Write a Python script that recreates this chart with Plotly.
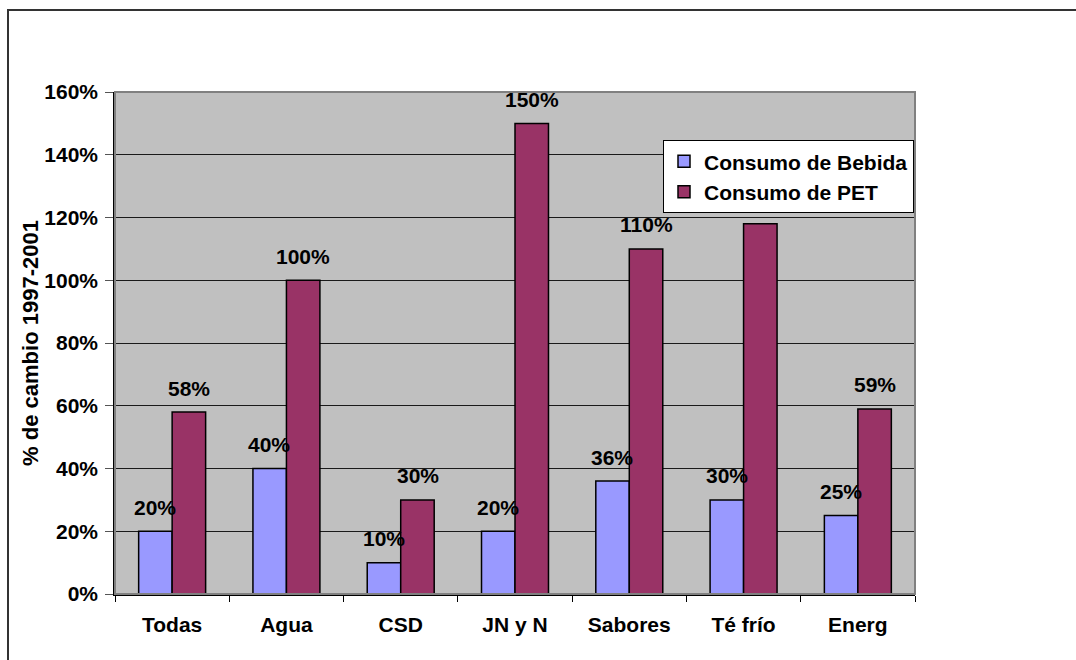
import plotly.graph_objects as go

categories = ["Todas", "Agua", "CSD", "JN y N", "Sabores", "Té frío", "Energ"]
bebida = [20, 40, 10, 20, 36, 30, 25]
pet = [58, 100, 30, 150, 110, 118, 59]
bebida_labels = ["20%", "40%", "10%", "20%", "36%", "30%", "25%"]
pet_labels = ["58%", "100%", "30%", "150%", "110%", None, "59%"]

FONT = "Liberation Sans, Arial, sans-serif"
FS = 21
BLUE = "#9999FF"
RED = "#993366"

fig = go.Figure()
fig.add_trace(go.Bar(name="Consumo de Bebida", x=categories, y=bebida,
                     marker=dict(color=BLUE, line=dict(color="black", width=1.5))))
fig.add_trace(go.Bar(name="Consumo de PET", x=categories, y=pet,
                     marker=dict(color=RED, line=dict(color="black", width=1.5))))

annotations = []
for cat, v, lab in zip(categories, bebida, bebida_labels):
    if lab:
        annotations.append(dict(x=cat, y=v, xref="x", yref="y", text=lab, showarrow=False,
                                xshift=-17, yshift=24, yanchor="middle",
                                font=dict(family=FONT, size=FS, color="black", weight="bold")))
for cat, v, lab in zip(categories, pet, pet_labels):
    if lab:
        annotations.append(dict(x=cat, y=v, xref="x", yref="y", text=lab, showarrow=False,
                                xshift=17, yshift=24, yanchor="middle",
                                font=dict(family=FONT, size=FS, color="black", weight="bold")))

fig.update_layout(
    width=1076, height=660,
    margin=dict(l=115, r=161, t=92, b=66),
    paper_bgcolor="white",
    plot_bgcolor="#C0C0C0",
    barmode="group",
    bargap=0.414,
    bargroupgap=0,
    font=dict(family=FONT, size=FS, color="black", weight="bold"),
    showlegend=True,
    legend=dict(x=0.685, y=0.904, xanchor="left", yanchor="top",
                bgcolor="white", bordercolor="black", borderwidth=1,
                font=dict(family=FONT, size=FS, color="black", weight="bold"),
                tracegroupgap=0),
    annotations=annotations,
    xaxis=dict(type="category", showgrid=False, tickson="boundaries",
               ticks="outside", ticklen=6, tickcolor="black", tickwidth=1,
               showline=True, linecolor="black", linewidth=1.5,
               tickfont=dict(family=FONT, size=FS, color="black", weight="bold"),
               ticklabelstandoff=11),
    yaxis=dict(range=[0, 160], dtick=20, ticksuffix="%",
               showgrid=True, gridcolor="#1a1a1a", gridwidth=1,
               ticks="outside", ticklen=8, tickcolor="#555555", tickwidth=1,
               showline=True, linecolor="black", linewidth=1.5,
               zeroline=False,
               tickfont=dict(family=FONT, size=FS, color="black", weight="bold"),
               ticklabelstandoff=3,
               title=dict(text="% de cambio 1997-2001", standoff=0,
                          font=dict(family=FONT, size=22, color="black", weight="bold"))),
    shapes=[
        dict(type="rect", xref="paper", yref="paper", x0=0, x1=1, y0=0, y1=1,
             line=dict(color="#808080", width=2), fillcolor="rgba(0,0,0,0)", layer="above"),
        dict(type="rect", xref="paper", yref="paper",
             x0=(8 - 115) / 800, x1=1.4, y0=-0.3, y1=(594 - 10) / 502,
             line=dict(color="#333333", width=2), fillcolor="rgba(0,0,0,0)", layer="above"),
    ],
)

fig.write_html("out.html")
